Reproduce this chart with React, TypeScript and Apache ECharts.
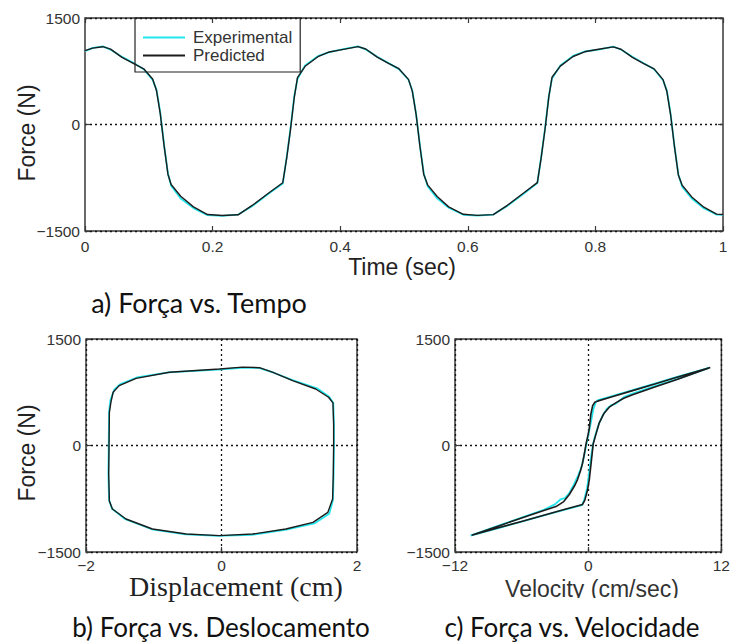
import React, { useEffect, useRef } from "react";
import * as echarts from "echarts";

// ---------- data ----------
const timeSec = [
  0, 0.012, 0.028, 0.04, 0.058, 0.075, 0.092, 0.106, 0.112, 0.118, 0.124, 0.13, 0.135, 0.15, 0.17, 0.192,
  0.215, 0.24, 0.262, 0.288, 0.31, 0.316, 0.322, 0.328, 0.333, 0.345, 0.365, 0.383, 0.405, 0.428, 0.44,
  0.458, 0.475, 0.492, 0.507, 0.513, 0.519, 0.525, 0.531, 0.537, 0.552, 0.57, 0.593, 0.615, 0.64, 0.662,
  0.688, 0.709, 0.715, 0.721, 0.727, 0.732, 0.745, 0.765, 0.783, 0.805, 0.828, 0.84, 0.858, 0.875, 0.892,
  0.906, 0.912, 0.918, 0.924, 0.93, 0.936, 0.951, 0.97, 0.99, 1.0,
];
const forceTimePred = [
  1040, 1075, 1096, 1062, 945, 866, 785, 640, 480, 150, -300, -700, -845, -1010, -1160, -1268,
  -1282, -1272, -1140, -965, -820, -480, -80, 380, 660, 820, 955, 1022, 1058, 1096, 1064,
  948, 864, 786, 636, 470, 140, -310, -705, -850, -1015, -1160, -1265, -1280, -1270, -1138,
  -962, -818, -470, -70, 390, 665, 822, 958, 1024, 1060, 1094, 1060, 945, 862, 784,
  632, 465, 130, -320, -710, -855, -1020, -1165, -1262, -1268,
];
const forceTimeExp = [
  1032, 1080, 1100, 1055, 952, 872, 778, 628, 495, 170, -290, -690, -862, -1042, -1178, -1276,
  -1286, -1268, -1150, -972, -832, -468, -60, 400, 640, 832, 962, 1018, 1062, 1100, 1058,
  955, 868, 780, 630, 482, 150, -298, -690, -870, -1040, -1172, -1272, -1284, -1268, -1146,
  -972, -824, -460, -58, 402, 648, 832, 966, 1028, 1056, 1098, 1056, 955, 866, 778,
  624, 480, 142, -308, -700, -875, -1042, -1180, -1270, -1274,
];

const dispPred = [
  -1.655, -1.63, -1.6, -1.51, -1.26, -0.77, -0.03, 0.31, 0.56, 0.76, 1.05, 1.39, 1.58, 1.645, 1.655, 1.655,
  1.65, 1.64, 1.57, 1.35, 0.95, 0.46, -0.03, -0.52, -1.02, -1.41, -1.61, -1.655, -1.665, -1.66, -1.655,
];
const forceDispPred = [
  467, 620, 750, 843, 946, 1031, 1077, 1104, 1096, 1031, 913, 796, 680, 600, 300, 0,
  -400, -754, -941, -1082, -1176, -1247, -1270, -1247, -1176, -1035, -894, -780, -400, 0, 467,
];
const dispExp = [
  -1.66, -1.64, -1.58, -1.5, -1.25, -0.78, -0.05, 0.3, 0.55, 0.77, 1.06, 1.41, 1.59, 1.65, 1.66, 1.66,
  1.655, 1.645, 1.59, 1.37, 0.96, 0.45, -0.05, -0.53, -1.03, -1.42, -1.615, -1.66, -1.67, -1.665, -1.66,
];
const forceDispExp = [
  470, 640, 790, 862, 958, 1030, 1068, 1092, 1092, 1025, 918, 806, 688, 600, 300, 0,
  -400, -770, -960, -1098, -1184, -1258, -1272, -1252, -1180, -1038, -892, -770, -400, 0, 470,
];

const velPred = [
  11.0, 8, 6, 4, 3.2, 2.48, 1.9, 1.43, 1.0, 0.7, 0.45, 0.3, 0.1, -0.06, -0.3, -0.51, -2, -4, -6, -8, -10.5,
  -8, -6, -4, -2.9, -2.2, -1.7, -1.2, -0.96, -0.7, -0.51, -0.35, -0.21, 0, 0.09, 0.24, 0.4, 0.6, 0.84, 2, 4,
  6, 8, 11.0,
];
const forceVelPred = [
  1100, 930, 825, 715, 665, 600, 540, 455, 320, 160, 20, -200, -480, -627, -770, -830, -895, -982, -1069,
  -1156, -1265, -1130, -1020, -915, -860, -790, -690, -560, -480, -360, -250, -120, 7, 160, 230, 440, 560,
  610, 625, 679, 773, 866, 960, 1100,
];
const velExp = [
  10.9, 8, 6, 4, 3.3, 2.9, 2.5, 2.1, 1.7, 1.3, 0.95, 0.65, 0.45, 0.25, 0.05, -0.1, -0.35, -0.55, -2, -4, -6,
  -8, -10.6, -8, -6, -4, -3, -2.5, -2.1, -1.7, -1.3, -0.9, -0.6, -0.4, -0.15, 0.05, 0.25, 0.45, 0.7, 0.9, 2,
  4, 6, 8, 10.9,
];
const forceVelExp = [
  1092, 935, 835, 730, 690, 640, 590, 570, 520, 420, 300, 150, 30, -170, -430, -600, -760, -840, -900, -985,
  -1072, -1160, -1268, -1125, -1015, -905, -830, -760, -740, -670, -550, -420, -300, -170, 30, 180, 330, 500,
  615, 640, 690, 780, 872, 965, 1092,
];

const forceTicks = [-1500, 0, 1500];
const timeTicks = [0, 0.2, 0.4, 0.6, 0.8, 1];
const dispTicks = [-2, 0, 2];
const velTicks = [-12, 0, 12];
const legendNames = ["Experimental", "Predicted"];
const axisTitles = ["Force (N)", "Time (sec)", "Displacement (cm)", "Velocity (cm/sec)"];
const captions = ["a) Força vs. Tempo", "b) Força vs. Deslocamento", "c) Força vs. Velocidade"];

// ---------- styling ----------
const FRAME = "#3a3a3a";
const CYAN = "#22e6ee";
const BLACK = "#1c1c1c";
const SANS = '"Liberation Sans", Arial, sans-serif';
const CAPTION_FONT = "Lato, 'Open Sans', sans-serif";

const fmt = (v: number) => String(v).replace("-", "\u2212");
const pairs = (xs: number[], ys: number[]) => xs.map((x, i) => [x, ys[i]]);

function axis(
  gridIndex: number,
  ticks: number[],
  position: string,
  showLabel: boolean,
  split: boolean,
  margin: number
) {
  return {
    type: "value",
    gridIndex,
    position,
    min: ticks[0],
    max: ticks[ticks.length - 1],
    interval: ticks[1] - ticks[0],
    axisLine: { show: false, onZero: false },
    axisTick: { show: true, inside: true, length: 5, lineStyle: { color: FRAME, width: 1.2 } },
    axisLabel: {
      show: showLabel,
      fontSize: 15.5,
      color: "#333",
      fontFamily: SANS,
      margin,
      formatter: fmt,
    },
    splitLine: { show: split, lineStyle: { color: "#111", type: [2, 3], width: 1.3 } },
  };
}

function lineSeries(name: string, xi: number, yi: number, data: number[][], color: string, width: number, z: number) {
  return {
    type: "line",
    name,
    xAxisIndex: xi,
    yAxisIndex: yi,
    data,
    symbol: "none",
    showSymbol: false,
    smooth: false,
    z,
    lineStyle: { color, width },
    itemStyle: { color },
  };
}

export default function App() {
  const ref = useRef<HTMLDivElement>(null);

  useEffect(() => {
    if (!ref.current) return;
    const chart = echarts.init(ref.current, null, { renderer: "svg" });
    const gridBase = { show: true, borderColor: FRAME, borderWidth: 1.5, backgroundColor: "transparent" };
    const titleStyle = { fontSize: 23, fontFamily: SANS, fill: "#222", align: "center", verticalAlign: "middle" };
    const capStyle = { fontSize: 26, fontFamily: CAPTION_FONT, fill: "#111", align: "center", verticalAlign: "middle" };

    const option = {
      animation: false,
      backgroundColor: "#ffffff",
      grid: [
        { ...gridBase, left: 85, top: 18, width: 638, height: 213 },
        { ...gridBase, left: 86, top: 339, width: 271, height: 213 },
        { ...gridBase, left: 455, top: 339, width: 268, height: 213 },
      ],
      xAxis: [
        axis(0, timeTicks, "bottom", true, false, 7),
        axis(0, timeTicks, "top", false, false, 7),
        axis(1, dispTicks, "bottom", true, true, 5),
        axis(2, velTicks, "bottom", true, true, 5),
      ],
      yAxis: [
        axis(0, forceTicks, "left", true, true, 5),
        axis(0, forceTicks, "right", false, false, 5),
        axis(1, forceTicks, "left", true, true, 5),
        axis(2, forceTicks, "left", true, true, 5),
      ],
      legend: {
        data: legendNames,
        left: 135,
        top: 18,
        orient: "vertical",
        icon: "rect",
        itemWidth: 42,
        itemHeight: 2,
        itemGap: 1,
        padding: [11, 8, 8, 8],
        borderColor: "#222",
        borderWidth: 1.2,
        backgroundColor: "transparent",
        selectedMode: false,
        textStyle: { fontSize: 17, lineHeight: 17, color: "#333", fontFamily: SANS, padding: [0, 0, 0, 3] },
      },
      series: [
        lineSeries(legendNames[0], 0, 0, pairs(timeSec, forceTimeExp), CYAN, 1.8, 2),
        lineSeries(legendNames[1], 0, 0, pairs(timeSec, forceTimePred), BLACK, 1.4, 3),
        lineSeries(legendNames[0], 2, 2, pairs(dispExp, forceDispExp), CYAN, 1.8, 2),
        lineSeries(legendNames[1], 2, 2, pairs(dispPred, forceDispPred), BLACK, 1.4, 3),
        lineSeries(legendNames[0], 3, 3, pairs(velExp, forceVelExp), CYAN, 1.8, 2),
        lineSeries(legendNames[1], 3, 3, pairs(velPred, forceVelPred), BLACK, 1.6, 3),
      ],
      graphic: [
        { type: "text", x: 27, y: 133, rotation: Math.PI / 2, style: { ...titleStyle, text: axisTitles[0] } },
        { type: "text", x: 402, y: 267, style: { ...titleStyle, text: axisTitles[1] } },
        { type: "text", x: 27, y: 453, rotation: Math.PI / 2, style: { ...titleStyle, text: axisTitles[0] } },
        {
          type: "text", x: 236, y: 586,
          style: { ...titleStyle, fontSize: 28, fontFamily: '"Liberation Serif", "Times New Roman", serif', text: axisTitles[2] },
        },
        { type: "text", x: 592, y: 589, style: { ...titleStyle, fill: "#333", text: axisTitles[3] } },
        { type: "rect", shape: { x: 490, y: 598, width: 210, height: 12 }, style: { fill: "#ffffff" }, z: 50 },
        { type: "text", x: 199, y: 302, z: 60, style: { ...capStyle, fontSize: 27, text: captions[0] } },
        { type: "text", x: 221, y: 627, z: 60, style: { ...capStyle, text: captions[1] } },
        { type: "text", x: 572, y: 627, z: 60, style: { ...capStyle, text: captions[2] } },
      ],
    };

    chart.setOption(option as any);
    return () => chart.dispose();
  }, []);

  return (
    <div
      ref={ref}
      style={{ position: "fixed", left: 0, top: 0, width: 733, height: 644, background: "#fff" }}
    />
  );
}
